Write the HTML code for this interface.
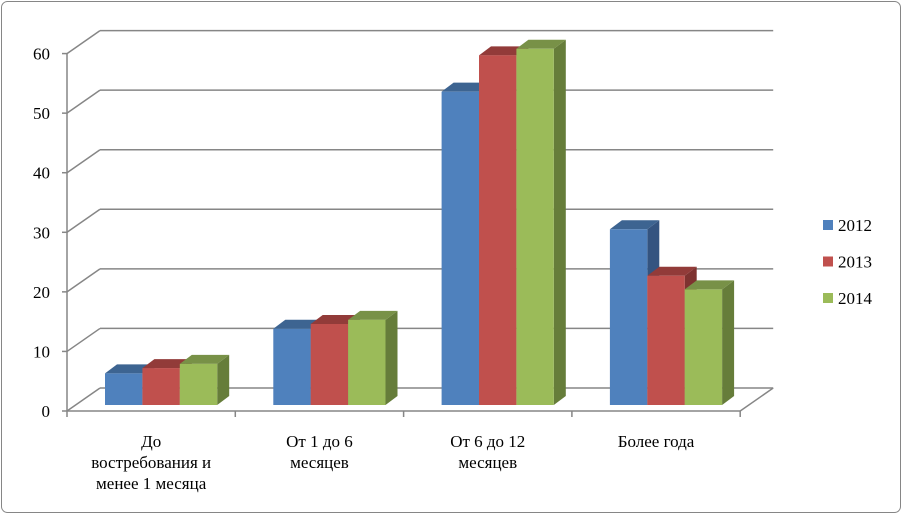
<!DOCTYPE html>
<html><head><meta charset="utf-8"><style>
html,body{margin:0;padding:0;background:#fff;}
svg{display:block;font-family:"Liberation Serif",serif;}
</style></head><body>
<svg width="902" height="514" viewBox="0 0 902 514">
<rect x="1.5" y="1.5" width="899" height="511" rx="6" fill="#fff" stroke="#868686" stroke-width="1"/>
<g id="grid"></g>
<g id="bars"></g>
<g id="labels"></g>
<g id="legend"></g>
</svg>
<script>
const categories = ["До|востребования и|менее 1 месяца","От 1 до 6|месяцев","От 6 до 12|месяцев","Более года"];
const seriesNames = ["2012","2013","2014"];
const s2012 = [5.3, 12.8, 52.6, 29.5];
const s2013 = [6.2, 13.6, 58.7, 21.7];
const s2014 = [6.9, 14.3, 59.8, 19.4];
const yTicks = [0,10,20,30,40,50,60];

const series=[s2012,s2013,s2014];
const frontColors=["#4F81BD","#C0504D","#9BBB59"];
const topColors=["#3D6491","#923B39","#789147"];
const sideColors=["#345480","#7E3230","#667D3A"];
const NS="http://www.w3.org/2000/svg";
const unit=5.957, DX=33, DY=23;
const x0=67, y0=411, groupW=168.3;
function yFront(v){return y0-v*unit;}
function mk(tag,attrs,parent,name){const e=document.createElementNS(NS,tag);for(const k in attrs)e.setAttribute(k,attrs[k]);


parent.appendChild(e);return e;}
const gridG=document.getElementById('grid'),barsG=document.getElementById('bars'),labelsG=document.getElementById('labels'),legendG=document.getElementById('legend');
const gc="#868686";
const xEnd=x0+groupW*categories.length;
yTicks.forEach(t=>{const y=yFront(t);
 mk('line',{x1:x0+DX,y1:y-DY,x2:xEnd+DX,y2:y-DY,stroke:gc,'stroke-width':1.5},gridG,'gridline');
 mk('line',{x1:x0,y1:y,x2:x0+DX,y2:y-DY,stroke:gc,'stroke-width':1.5},gridG,'gridline-diagonal');
 mk('line',{x1:x0-5,y1:y,x2:x0,y2:y,stroke:gc,'stroke-width':1.5},gridG,'y-tick');
 const tx=mk('text',{x:50,y:y+6,'text-anchor':'end','font-size':17,fill:'#000'},labelsG,'y-tick-label');tx.textContent=t;});
mk('line',{x1:x0,y1:yFront(yTicks[yTicks.length-1]),x2:x0,y2:y0,stroke:gc,'stroke-width':1.5},gridG,'y-axis');
mk('line',{x1:x0,y1:y0,x2:xEnd,y2:y0,stroke:gc,'stroke-width':1.5},gridG,'x-axis');
mk('line',{x1:xEnd,y1:y0,x2:xEnd+DX,y2:y0-DY,stroke:gc,'stroke-width':1.5},gridG,'floor-edge');
for(let i=0;i<=categories.length;i++){const x=x0+groupW*i;mk('line',{x1:x,y1:y0,x2:x,y2:y0+6,stroke:gc,'stroke-width':1.5},gridG,'x-tick');}
const bw=37.4, bdx=12, bdy=9, base=405;
categories.forEach((c,i)=>{
 const gx=x0+groupW*i+38;
 series.forEach((s,j)=>{
  const x=gx+bw*j, h=s[i]*unit, yt=base-h;
  mk('polygon',{points:`${x+bw},${base} ${x+bw+bdx},${base-bdy} ${x+bw+bdx},${yt-bdy} ${x+bw},${yt}`,fill:sideColors[j]},barsG,'bar-side');
  mk('polygon',{points:`${x},${yt} ${x+bdx},${yt-bdy} ${x+bw+bdx},${yt-bdy} ${x+bw},${yt}`,fill:topColors[j]},barsG,'bar-top');
  mk('rect',{x:x,y:yt,width:bw,height:h,fill:frontColors[j]},barsG,'bar-'+seriesNames[j]+'-'+(i+1));
 });
 const cx=x0+groupW*(i+0.5);
 const t=mk('text',{x:cx,y:447,'text-anchor':'middle','font-size':17,fill:'#000'},labelsG,'x-category-label');
 c.split('|').forEach((ln,k)=>{const sp=document.createElementNS(NS,'tspan');sp.setAttribute('x',cx);sp.setAttribute('dy',k?21:0);sp.textContent=ln;t.appendChild(sp);});
});
seriesNames.forEach((n,j)=>{const y=220+j*36.5;
 mk('rect',{x:823,y:y,width:10,height:10,fill:frontColors[j]},legendG,'legend-swatch-'+n);
 const t=mk('text',{x:838,y:y+11,'font-size':17,fill:'#000'},legendG,'legend-entry-'+n);t.textContent=n;});
</script>
</body></html>
